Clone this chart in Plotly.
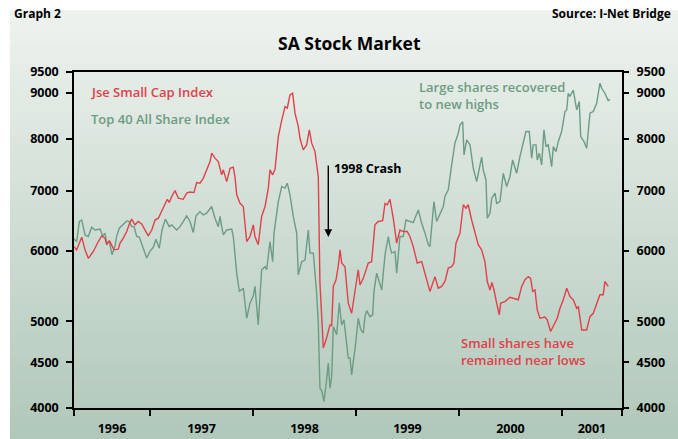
import numpy as np
import plotly.graph_objects as go

# ---------------- data (decimal year, index level) ----------------
small_cap_year = [
    1996.262, 1996.288, 1996.337, 1996.369, 1996.401, 1996.450, 1996.498, 1996.531, 1996.563, 1996.580,
    1996.605, 1996.638, 1996.650, 1996.692, 1996.709, 1996.741, 1996.774, 1996.799, 1996.822, 1996.854,
    1996.886, 1996.919, 1996.951, 1996.983, 1997.017, 1997.049, 1997.081, 1997.129, 1997.168, 1997.187,
    1997.211, 1997.243, 1997.275, 1997.323, 1997.356, 1997.388, 1997.427, 1997.453, 1997.485, 1997.517,
    1997.550, 1997.583, 1997.599, 1997.631, 1997.663, 1997.696, 1997.712, 1997.745, 1997.777, 1997.809,
    1997.825, 1997.842, 1997.874, 1997.906, 1997.939, 1997.971, 1998.003, 1998.019, 1998.051, 1998.084,
    1998.117, 1998.149, 1998.165, 1998.191, 1998.214, 1998.246, 1998.279, 1998.311, 1998.333, 1998.359,
    1998.385, 1998.408, 1998.440, 1998.456, 1998.488, 1998.521, 1998.547, 1998.570, 1998.602, 1998.634,
    1998.650, 1998.683, 1998.709, 1998.731, 1998.748, 1998.764, 1998.780, 1998.806, 1998.828, 1998.845,
    1998.861, 1998.893, 1998.925, 1998.958, 1998.990, 1999.022, 1999.039, 1999.071, 1999.119, 1999.152,
    1999.184, 1999.216, 1999.259, 1999.282, 1999.304, 1999.330, 1999.362, 1999.395, 1999.427, 1999.459,
    1999.498, 1999.524, 1999.556, 1999.595, 1999.638, 1999.670, 1999.718, 1999.767, 1999.799, 1999.832,
    1999.864, 1999.896, 1999.929, 1999.951, 1999.971, 2000.010, 2000.042, 2000.068, 2000.090, 2000.123,
    2000.155, 2000.187, 2000.220, 2000.252, 2000.275, 2000.301, 2000.320, 2000.340, 2000.366, 2000.391,
    2000.405, 2000.447, 2000.495, 2000.544, 2000.576, 2000.609, 2000.641, 2000.673, 2000.696, 2000.716,
    2000.738, 2000.760, 2000.786, 2000.835, 2000.857, 2000.890, 2000.932, 2000.954, 2000.981, 2001.013,
    2001.046, 2001.078, 2001.110, 2001.143, 2001.159, 2001.192, 2001.240, 2001.272, 2001.304, 2001.337,
    2001.369, 2001.401, 2001.417, 2001.449,
]
small_cap_value = [
    6060, 6010, 6210, 6010, 5880, 5985, 6140, 6230, 6195, 6090,
    6155, 6060, 6010, 6020, 6115, 6195, 6300, 6425, 6505, 6410,
    6465, 6425, 6325, 6230, 6325, 6490, 6520, 6690, 6845, 6790,
    6895, 7000, 6865, 6845, 6955, 6975, 6965, 7145, 7135, 7225,
    7385, 7545, 7710, 7610, 7545, 7290, 7385, 7165, 7415, 7435,
    7255, 6925, 6775, 6720, 6140, 6220, 6410, 6220, 6090, 6550,
    6720, 7045, 7385, 7290, 7395, 8045, 8395, 8690, 8655, 8955,
    8995, 8545, 8255, 8010, 7775, 7875, 8185, 7910, 7740, 7255,
    5520, 4670, 4765, 4855, 4955, 4940, 5470, 5565, 5765, 6010,
    5810, 5755, 5240, 5105, 5375, 5710, 5490, 5585, 5810, 5830,
    6410, 6465, 6480, 6775, 6750, 6845, 6520, 6115, 6325, 6300,
    6300, 6220, 6060, 5810, 5830, 5660, 5400, 5610, 5445, 5470,
    5540, 5735, 5755, 5810, 6115, 6275, 6750, 6690, 6750, 6490,
    6300, 6090, 6010, 5830, 5540, 5420, 5525, 5420, 5240, 5085,
    5240, 5260, 5320, 5305, 5285, 5470, 5565, 5610, 5585, 5400,
    5420, 5150, 5040, 5055, 5020, 4870, 4995, 5040, 5170, 5285,
    5445, 5330, 5285, 5170, 5195, 4890, 4890, 5060, 5105, 5240,
    5355, 5355, 5540, 5470,
]

top40_year = [
    1996.262, 1996.288, 1996.314, 1996.337, 1996.369, 1996.401, 1996.434, 1996.466, 1996.515, 1996.541,
    1996.563, 1996.580, 1996.605, 1996.631, 1996.660, 1996.677, 1996.702, 1996.741, 1996.774, 1996.799,
    1996.822, 1996.845, 1996.871, 1996.896, 1996.919, 1996.942, 1996.968, 1997.000, 1997.032, 1997.058,
    1997.090, 1997.117, 1997.149, 1997.187, 1997.211, 1997.259, 1997.291, 1997.323, 1997.356, 1997.388,
    1997.420, 1997.447, 1997.485, 1997.517, 1997.550, 1997.599, 1997.631, 1997.663, 1997.680, 1997.696,
    1997.712, 1997.745, 1997.793, 1997.809, 1997.842, 1997.867, 1997.906, 1997.939, 1997.971, 1998.003,
    1998.019, 1998.051, 1998.084, 1998.117, 1998.133, 1998.165, 1998.191, 1998.204, 1998.246, 1998.279,
    1998.311, 1998.333, 1998.359, 1998.391, 1998.424, 1998.440, 1998.473, 1998.505, 1998.537, 1998.553,
    1998.586, 1998.602, 1998.618, 1998.634, 1998.650, 1998.670, 1998.689, 1998.715, 1998.731, 1998.748,
    1998.764, 1998.780, 1998.813, 1998.838, 1998.861, 1998.883, 1998.909, 1998.925, 1998.942, 1998.958,
    1998.974, 1998.990, 1999.022, 1999.045, 1999.071, 1999.087, 1999.104, 1999.136, 1999.162, 1999.175,
    1999.201, 1999.233, 1999.250, 1999.282, 1999.314, 1999.330, 1999.346, 1999.379, 1999.395, 1999.427,
    1999.459, 1999.485, 1999.524, 1999.556, 1999.605, 1999.638, 1999.670, 1999.702, 1999.718, 1999.757,
    1999.783, 1999.816, 1999.848, 1999.864, 1999.896, 1999.929, 1999.961, 1999.993, 2000.010, 2000.036,
    2000.049, 2000.075, 2000.107, 2000.139, 2000.172, 2000.220, 2000.236, 2000.262, 2000.275, 2000.301,
    2000.318, 2000.350, 2000.366, 2000.398, 2000.430, 2000.463, 2000.495, 2000.521, 2000.560, 2000.592,
    2000.624, 2000.650, 2000.682, 2000.706, 2000.721, 2000.748, 2000.760, 2000.780, 2000.803, 2000.825,
    2000.845, 2000.867, 2000.900, 2000.916, 2000.942, 2000.964, 2000.997, 2001.029, 2001.046, 2001.061,
    2001.078, 2001.110, 2001.126, 2001.143, 2001.168, 2001.182, 2001.214, 2001.240, 2001.272, 2001.304,
    2001.337, 2001.369, 2001.386, 2001.417, 2001.449, 2001.466,
]
top40_value = [
    6180, 6140, 6465, 6490, 6245, 6220, 6370, 6325, 6340, 6230,
    6275, 6115, 6140, 5935, 6070, 6230, 6355, 6425, 6475, 6465,
    6380, 6380, 6220, 6210, 6105, 6010, 5885, 5990, 6050, 6175,
    6035, 6325, 6505, 6380, 6410, 6325, 6380, 6465, 6560, 6465,
    6285, 6560, 6630, 6575, 6605, 6720, 6520, 6380, 6550, 6380,
    6245, 6325, 6340, 6220, 5660, 5400, 5445, 5040, 5240, 5340,
    5470, 4955, 5710, 5755, 5710, 6140, 5830, 6275, 6805, 7075,
    7045, 7135, 6925, 6550, 6275, 5635, 5830, 5855, 6325, 5960,
    5960, 5660, 5375, 4975, 4210, 4175, 4065, 4300, 4490, 4210,
    4335, 4935, 4830, 5245, 4955, 5020, 4725, 4550, 4550, 4355,
    4510, 4645, 5040, 4900, 4850, 5060, 5140, 5060, 5085, 5400,
    5660, 5490, 5420, 5935, 6220, 6060, 5960, 5985, 5660, 6220,
    6220, 6490, 6465, 6445, 6660, 6435, 6275, 6090, 6060, 6805,
    6465, 6605, 6720, 6895, 7015, 7480, 7910, 8115, 8290, 8360,
    7675, 7975, 7875, 7415, 7165, 7630, 7385, 7195, 6520, 6605,
    6865, 6955, 6775, 6805, 7320, 7075, 7255, 7575, 7320, 7640,
    7910, 8150, 8150, 7610, 7875, 7875, 7575, 7710, 7480, 8185,
    7840, 7875, 7445, 7840, 7740, 7940, 8150, 8580, 8615, 8995,
    8920, 9070, 8840, 8615, 8805, 8045, 7940, 7805, 8545, 8580,
    8765, 9230, 9110, 8995, 8825, 8855,
]

y_tick_values = [4000, 4500, 5000, 6000, 7000, 8000, 9000, 9500]
y_tick_labels = ["4000", "4500", "5000", "6000", "7000", "8000", "9000", "9500"]
year_labels = ["1996", "1997", "1998", "1999", "2000", "2001"]
year_starts = [1997, 1998, 1999, 2000, 2001]
x_start, x_end = 1996.262, 2001.583
y_min, y_max = 4000, 9500

RED = "#e0414b"
GREEN = "#6c9c83"
FONT = "Open Sans"

# year label positions: centred on the visible part of each year
bounds = [x_start] + year_starts + [x_end]
year_label_pos = [(bounds[i] + bounds[i + 1]) / 2 for i in range(len(bounds) - 1)]

fig = go.Figure()
fig.add_trace(go.Scatter(x=top40_year, y=top40_value, mode="lines",
                         line=dict(color=GREEN, width=1.4), name="Top 40 All Share Index",
                         showlegend=False))
fig.add_trace(go.Scatter(x=small_cap_year, y=small_cap_value, mode="lines",
                         line=dict(color=RED, width=1.4), name="Jse Small Cap Index",
                         showlegend=False))
# helper (invisible) trace so the secondary axes are drawn
fig.add_trace(go.Scatter(x=[x_start], y=[y_min], xaxis="x2", yaxis="y2", mode="markers",
                         marker=dict(opacity=0), hoverinfo="skip", showlegend=False))

tick_font = dict(family=FONT, size=12.5, color="black", weight="bold")

fig.update_layout(
    width=678, height=439, autosize=False,
    margin=dict(l=74, r=56, t=72, b=31, autoexpand=False),
    paper_bgcolor="white", plot_bgcolor="rgba(0,0,0,0)",
    showlegend=False,
    xaxis=dict(range=[x_start, x_end], tickvals=bounds, ticktext=[""] * len(bounds),
               ticks="outside", ticklen=6, tickwidth=1.5, tickcolor="black",
               showline=True, linecolor="black", linewidth=1.5, mirror=True,
               showgrid=False, zeroline=False, automargin=False),
    xaxis2=dict(overlaying="x", anchor="y", side="bottom", range=[x_start, x_end],
                tickvals=year_label_pos, ticktext=year_labels,
                ticks="outside", ticklen=6, tickcolor="rgba(0,0,0,0)",
                ticklabelstandoff=3, automargin=False,
                showline=False, showgrid=False, zeroline=False, tickfont=tick_font),
    yaxis=dict(type="log", range=[np.log10(y_min), np.log10(y_max)],
               tickvals=y_tick_values, ticktext=y_tick_labels,
               ticks="outside", ticklen=6, tickwidth=1.5, tickcolor="black",
               ticklabelstandoff=5, automargin=False,
               showline=True, linecolor="black", linewidth=1.5, mirror=True,
               showgrid=False, zeroline=False, tickfont=tick_font),
    yaxis2=dict(type="log", overlaying="y", anchor="x", side="right",
                range=[np.log10(y_min), np.log10(y_max)],
                tickvals=y_tick_values, ticktext=y_tick_labels,
                ticks="outside", ticklen=6, tickwidth=1.5, tickcolor="black",
                ticklabelstandoff=5, automargin=False,
                showline=False, showgrid=False, zeroline=False, tickfont=tick_font),
)

# ---------------- background gradient panel ----------------
top_rgb = np.array([239, 243, 239])
bot_rgb = np.array([176, 200, 186])
n_bands = 80
px0, px1, py_top, py_bot = 10, 678, 10, 439
plot_l, plot_r, plot_t, plot_b = 74, 622, 72, 408
def px_to_paper_x(p):
    return (p - plot_l) / (plot_r - plot_l)
def px_to_paper_y(p):
    return (plot_b - p) / (plot_b - plot_t)
shapes = []
for i in range(n_bands):
    t = (i + 0.5) / n_bands
    c = top_rgb + (bot_rgb - top_rgb) * t
    ya = py_top + (py_bot - py_top) * i / n_bands
    yb = py_top + (py_bot - py_top) * (i + 1) / n_bands + 0.6
    shapes.append(dict(type="rect", xref="paper", yref="paper", layer="below",
                       x0=px_to_paper_x(px0), x1=px_to_paper_x(px1),
                       y0=px_to_paper_y(yb), y1=px_to_paper_y(ya),
                       line=dict(width=0),
                       fillcolor=f"rgb({int(c[0])},{int(c[1])},{int(c[2])})"))
fig.update_layout(shapes=shapes)

# ---------------- text ----------------
ann = []
ann.append(dict(text="SA Stock Market", xref="paper", yref="paper",
                x=px_to_paper_x(349), y=px_to_paper_y(43), showarrow=False,
                xanchor="center", yanchor="middle",
                font=dict(family=FONT, size=17.5, color="black", weight="bold")))
ann.append(dict(text="Graph 2", xref="paper", yref="paper",
                x=px_to_paper_x(12), y=px_to_paper_y(14), showarrow=False,
                xanchor="left", yanchor="middle",
                font=dict(family=FONT, size=12, color="black", weight="bold")))
ann.append(dict(text="Source: I-Net Bridge", xref="paper", yref="paper",
                x=px_to_paper_x(673), y=px_to_paper_y(14), showarrow=False,
                xanchor="right", yanchor="middle",
                font=dict(family=FONT, size=12, color="black", weight="bold")))
ann.append(dict(text="Jse Small Cap Index", xref="paper", yref="paper",
                x=px_to_paper_x(89), y=px_to_paper_y(92), showarrow=False,
                xanchor="left", yanchor="middle",
                font=dict(family=FONT, size=13, color=RED, weight=600)))
ann.append(dict(text="Top 40 All Share Index", xref="paper", yref="paper",
                x=px_to_paper_x(89), y=px_to_paper_y(119), showarrow=False,
                xanchor="left", yanchor="middle",
                font=dict(family=FONT, size=13, color=GREEN, weight=600)))
ann.append(dict(text="Large shares recovered<br>to new highs", xref="paper", yref="paper",
                x=px_to_paper_x(417), y=px_to_paper_y(96), showarrow=False,
                xanchor="left", yanchor="middle", align="left",
                font=dict(family=FONT, size=13, color=GREEN, weight=600)))
ann.append(dict(text="Small shares have<br>remained near lows", xref="paper", yref="paper",
                x=px_to_paper_x(459), y=px_to_paper_y(351), showarrow=False,
                xanchor="left", yanchor="middle", align="left",
                font=dict(family=FONT, size=13, color=RED, weight=600)))
ann.append(dict(text="1998 Crash", xref="paper", yref="paper",
                x=px_to_paper_x(332), y=px_to_paper_y(168), showarrow=False,
                xanchor="left", yanchor="middle",
                font=dict(family=FONT, size=12.5, color="black", weight="bold")))
ann.append(dict(text="", xref="paper", yref="paper",
                x=px_to_paper_x(328.3), y=px_to_paper_y(237),
                showarrow=True, arrowhead=2, arrowsize=1.1, arrowwidth=1.4,
                arrowcolor="black", axref="pixel", ayref="pixel", ax=0, ay=-73,
                standoff=0))
fig.update_layout(annotations=ann)

fig.write_html("out.html", config={"displayModeBar": False},
               post_script="document.body.style.margin='0';document.body.style.padding='0';")
